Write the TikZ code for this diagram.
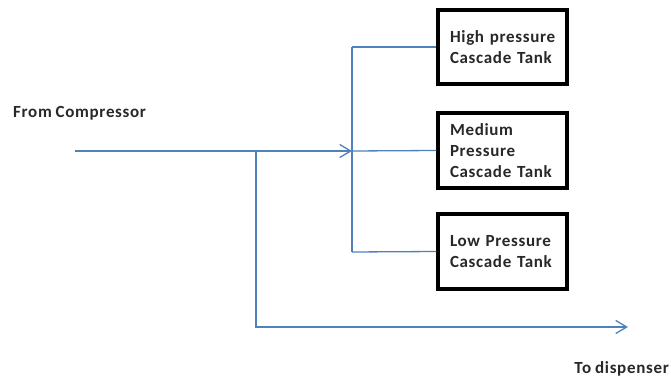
\documentclass[tikz,border=0pt]{standalone}
\usepackage{fontspec}
\setmainfont{Carlito}[LetterSpace=4,WordSpace=0.85]
\usetikzlibrary{arrows.meta}
\definecolor{flowblue}{RGB}{79,129,189}
\definecolor{inkgray}{RGB}{40,40,40}
\begin{document}
\begin{tikzpicture}[x=1pt,y=-1pt,
  flow/.style={draw=flowblue,line width=1.3pt},
  tip/.style={-{Straight Barb[length=11pt,width=13pt,line width=1.3pt]}},
  tank/.style={draw=black,line width=3.4pt,rectangle,minimum width=129pt,minimum height=74pt,
    text width=105pt,align=left,inner xsep=12pt,font=\bfseries\fontsize{17}{21}\selectfont,text=inkgray},
  lbl/.style={font=\bfseries\fontsize{17}{20}\selectfont,text=inkgray,inner sep=0pt}]
\useasboundingbox (0,0) rectangle (671,379);
\node[tank] (high) at (502.5,47) {High pressure\\Cascade Tank};
\node[tank,minimum height=75pt] (med) at (502.5,150.5) {Medium\\Pressure\\Cascade Tank};
\node[tank,minimum height=75pt] (low) at (502.5,251.5) {Low Pressure\\Cascade Tank};
\node[lbl,anchor=base west] (from) at (13,117.5) {From Compressor};
\node[lbl,anchor=base east] (to) at (669,373) {To dispenser};
\coordinate (start) at (75,151);
\coordinate (split) at (256,151);
\coordinate (bus) at (352,151);
\coordinate (bustop) at (352,47);
\coordinate (busbot) at (352,252);
\coordinate (end) at (628,327);
\draw[flow,tip] (start) -- (bus);
\draw[flow] (bustop) -- (busbot);
\draw[flow] (bustop) -- (high.west);
\draw[flow] (bus) -- (med.west);
\draw[flow] (busbot) -- (low.west);
\draw[flow,tip] (split) |- (end);
\end{tikzpicture}
\end{document}
